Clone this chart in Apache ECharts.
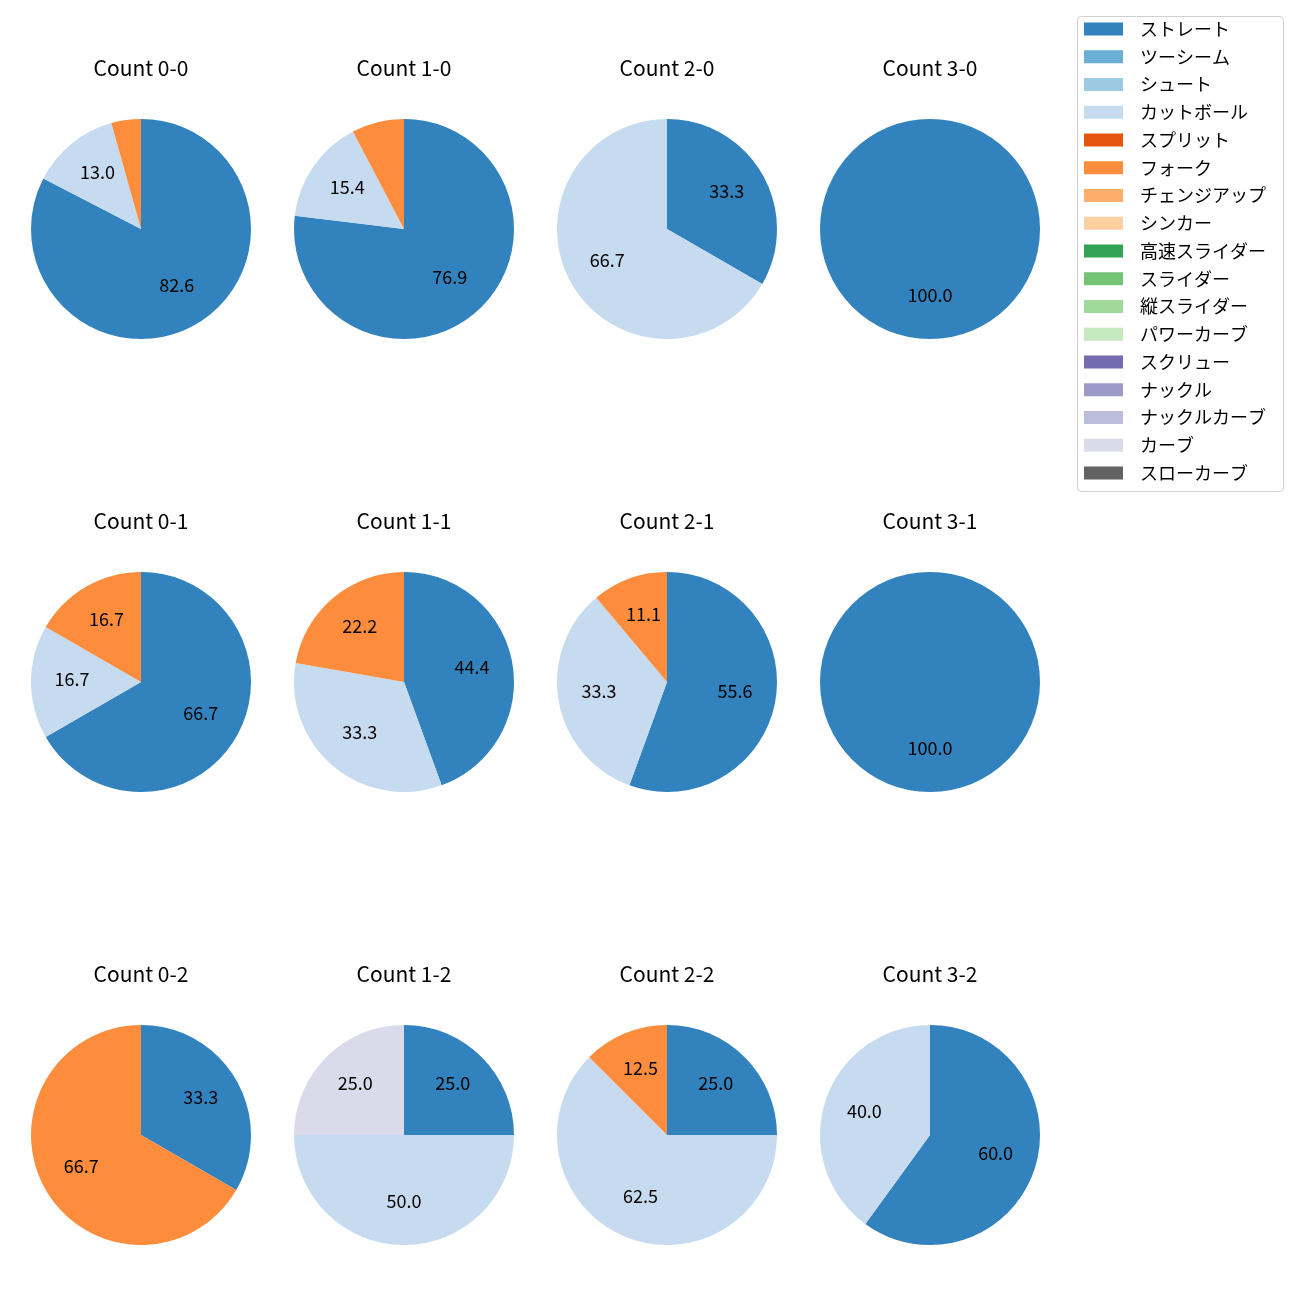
<!DOCTYPE html>
<html>
<head>
<meta charset="utf-8">
<script src="https://cdn.jsdelivr.net/npm/echarts@6/dist/echarts.min.js"></script>
<style>html,body{margin:0;padding:0;background:#fff}#chart{width:1300px;height:1300px}</style>
</head>
<body>
<div id="chart"></div>
<script>
// Legend categories (pitch types) and their colours
const pitchTypes = ['ストレート','ツーシーム','シュート','カットボール','スプリット','フォーク','チェンジアップ','シンカー','高速スライダー','スライダー','縦スライダー','パワーカーブ','スクリュー','ナックル','ナックルカーブ','カーブ','スローカーブ'];
const pitchColors = ['#3182bd','#6baed6','#9ecae1','#c6dbef','#e6550d','#fd8d3c','#fdae6b','#fdd0a2','#31a354','#74c476','#a1d99b','#c7e9c0','#756bb1','#9e9ac8','#bcbddc','#dadaeb','#636363'];

// Pitch types actually thrown, and counts per ball-strike count
const usedPitches = ['ストレート','カットボール','フォーク','カーブ'];
const count00 = [19, 3, 1, 0];
const count10 = [10, 2, 1, 0];
const count20 = [1, 2, 0, 0];
const count30 = [1, 0, 0, 0];
const count01 = [4, 1, 1, 0];
const count11 = [4, 3, 2, 0];
const count21 = [5, 3, 1, 0];
const count31 = [1, 0, 0, 0];
const count02 = [1, 0, 2, 0];
const count12 = [1, 2, 0, 1];
const count22 = [2, 5, 1, 0];
const count32 = [3, 2, 0, 0];

const panelTitles = ['Count 0-0','Count 1-0','Count 2-0','Count 3-0','Count 0-1','Count 1-1','Count 2-1','Count 3-1','Count 0-2','Count 1-2','Count 2-2','Count 3-2'];
const panelData = [count00,count10,count20,count30,count01,count11,count21,count31,count02,count12,count22,count32];

const colX = [141, 404, 667, 930];
const rowY = [229, 682, 1135];
const R = 110;
const FONT = '"Noto Sans CJK JP", "Noto Sans", sans-serif';

function buildData(vals) {
  return pitchTypes.map((name, i) => {
    const k = usedPitches.indexOf(name);
    return { name: name, value: k >= 0 ? vals[k] : 0, itemStyle: { color: pitchColors[i] } };
  });
}

const titles = [];
const mainSeries = [];
const labelSeries = [];
panelData.forEach((vals, idx) => {
  const cx = colX[idx % 4], cy = rowY[Math.floor(idx / 4)];
  const total = vals.reduce((a, b) => a + b, 0);
  const data = buildData(vals);
  titles.push({
    text: panelTitles[idx], left: cx, top: cy - 171, textAlign: 'center', padding: 0,
    textStyle: { fontFamily: FONT, fontSize: 21, fontWeight: 'normal', color: '#000' }
  });
  mainSeries.push({
    type: 'pie', center: [cx, cy], radius: [0, R], startAngle: 90, clockwise: true,
    data: data, label: { show: false }, labelLine: { show: false },
    itemStyle: { borderWidth: 0 }, emphasis: { disabled: true }, animation: false
  });
  // transparent overlay that carries the percentage labels at 0.6 R
  labelSeries.push({
    type: 'pie', center: [cx, cy - 3], radius: [R * 0.2, R], startAngle: 90, clockwise: true,
    silent: true, legendHoverLink: false, emphasis: { disabled: true }, animation: false,
    data: data.map(d => ({ name: d.name, value: d.value, itemStyle: { color: 'rgba(0,0,0,0)' } })),
    label: {
      show: true, position: 'inside', color: '#000', fontFamily: FONT, fontSize: 18,
      formatter: p => { const pct = p.value / total * 100; return pct >= 10 ? pct.toFixed(1) : ''; }
    },
    labelLine: { show: false }
  });
});

const option = {
  backgroundColor: '#fff',
  animation: false,
  title: titles,
  graphic: [{
    type: 'rect', z: 0, shape: { x: 1077.5, y: 16.5, width: 206, height: 475, r: 4 },
    style: { fill: '#fff', stroke: '#d0d0d0', lineWidth: 1 }
  }],
  legend: {
    orient: 'vertical', left: 1084, top: 20, padding: 0, z: 10,
    itemWidth: 39, itemHeight: 13, itemGap: 9.75,
    icon: 'rect', selectedMode: false,
    data: pitchTypes,
    textStyle: { fontFamily: FONT, fontSize: 18, color: '#000', lineHeight: 18, padding: [0, 0, 0, 12] }
  },
  series: mainSeries.concat(labelSeries)
};

const chart = echarts.init(document.getElementById('chart'), null, { renderer: 'canvas' });
chart.setOption(option);
</script>
</body>
</html>
